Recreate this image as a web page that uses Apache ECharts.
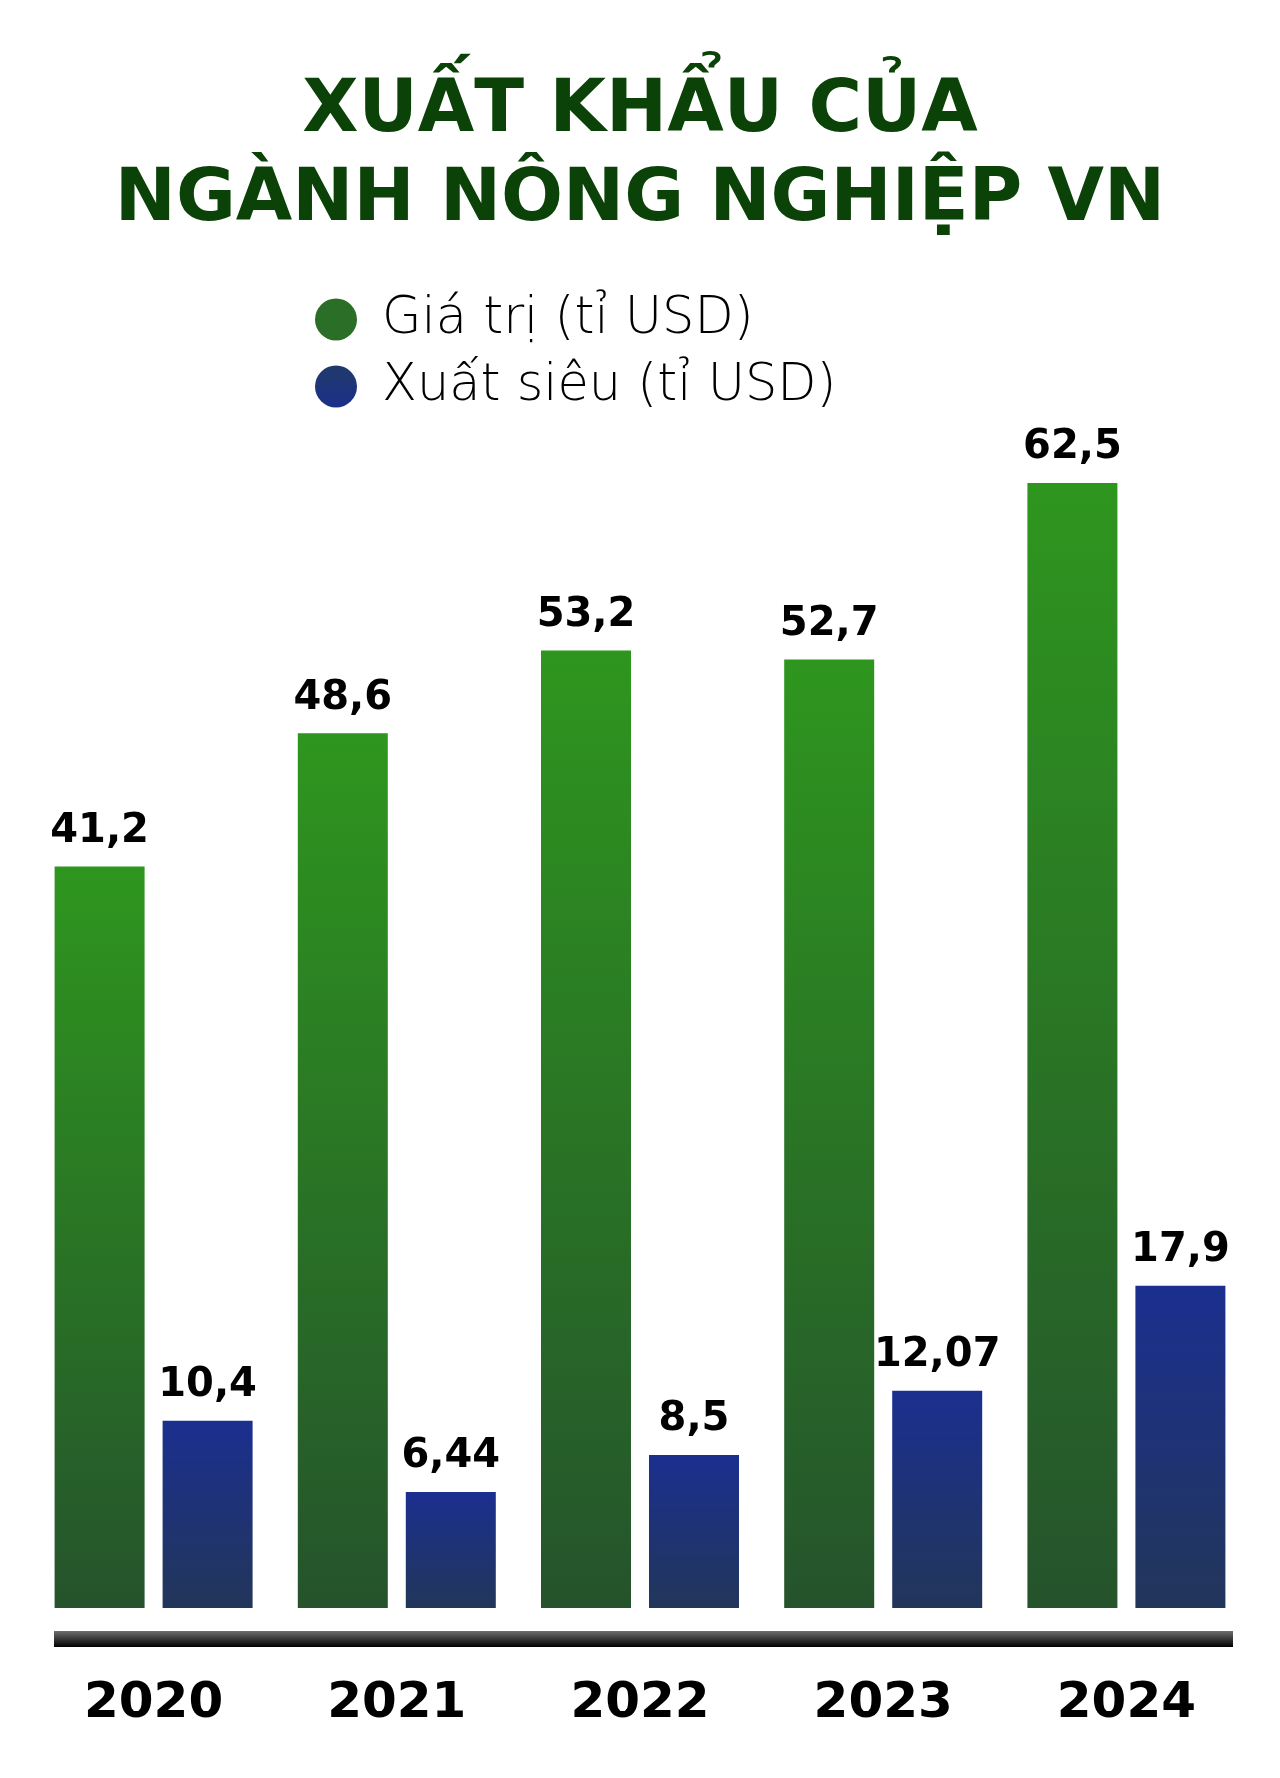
<!DOCTYPE html>
<html>
<head>
<meta charset="utf-8">
<script src="https://cdn.jsdelivr.net/npm/echarts@6/dist/echarts.min.js"></script>
<style>
  html, body { margin: 0; padding: 0; background: #ffffff; }
  #chart { width: 1280px; height: 1778px; }
</style>
</head>
<body>
<div id="chart"></div>
<script>
const titleText = 'XUẤT KHẨU CỦA\nNGÀNH NÔNG NGHIỆP VN';
const years = ['2020', '2021', '2022', '2023', '2024'];
const seriesNames = ['Giá trị (tỉ USD)', 'Xuất siêu (tỉ USD)'];
const giaTri = [41.2, 48.6, 53.2, 52.7, 62.5];
const xuatSieu = [10.4, 6.44, 8.5, 12.07, 17.9];

const chart = echarts.init(document.getElementById('chart'), null, { renderer: 'canvas' });

function vGrad(top, bottom) {
  return { type: 'linear', x: 0, y: 0, x2: 0, y2: 1,
    colorStops: [{ offset: 0, color: top }, { offset: 1, color: bottom }] };
}
const fmt = p => String(p.value).replace('.', ',');
const labelStyle = {
  show: true, position: 'top', distance: 15,
  fontFamily: 'DejaVu Sans', fontWeight: 'bold', fontSize: 40, color: '#000000',
  formatter: fmt
};

chart.setOption({
  animation: false,
  backgroundColor: '#ffffff',
  title: {
    text: titleText,
    left: 'center', top: 63,
    textStyle: {
      fontFamily: 'DejaVu Sans', fontWeight: 'bold', fontSize: 73,
      lineHeight: 89, color: '#0b4207'
    }
  },
  legend: {
    orient: 'vertical', left: 310, top: 289,
    itemWidth: 42, itemHeight: 42, itemGap: 16,
    icon: 'circle',
    data: [
      { name: seriesNames[0], itemStyle: { color: '#2b6e27' } },
      { name: seriesNames[1], itemStyle: { color: vGrad('#213a6a', '#1b2f8a') } }
    ],
    textStyle: {
      fontFamily: 'DejaVu Sans', fontWeight: 200, fontSize: 51, color: '#000000',
      padding: [0, 0, 0, 20]
    }
  },
  grid: { left: 32, right: 32, top: 348, bottom: 170 },
  xAxis: {
    type: 'category', data: years,
    axisLine: { show: false }, axisTick: { show: false },
    axisLabel: {
      margin: 71, fontFamily: 'DejaVu Sans', fontWeight: 'bold',
      fontSize: 50, color: '#000000'
    }
  },
  yAxis: { type: 'value', min: 0, max: 70, show: false, splitLine: { show: false } },
  series: [
    {
      name: seriesNames[0], type: 'bar', data: giaTri,
      barWidth: 90, barGap: '20%',
      itemStyle: { color: vGrad('#2e961e', '#25532c') },
      label: labelStyle
    },
    {
      name: seriesNames[1], type: 'bar', data: xuatSieu,
      barWidth: 90,
      itemStyle: { color: vGrad('#1b2f8f', '#22365a') },
      label: labelStyle
    }
  ],
  graphic: [
    {
      type: 'rect', left: 54, top: 1631,
      shape: { width: 1179, height: 16 },
      style: { fill: vGrad('#6e6e6e', '#000000') }
    }
  ]
});
</script>
</body>
</html>
